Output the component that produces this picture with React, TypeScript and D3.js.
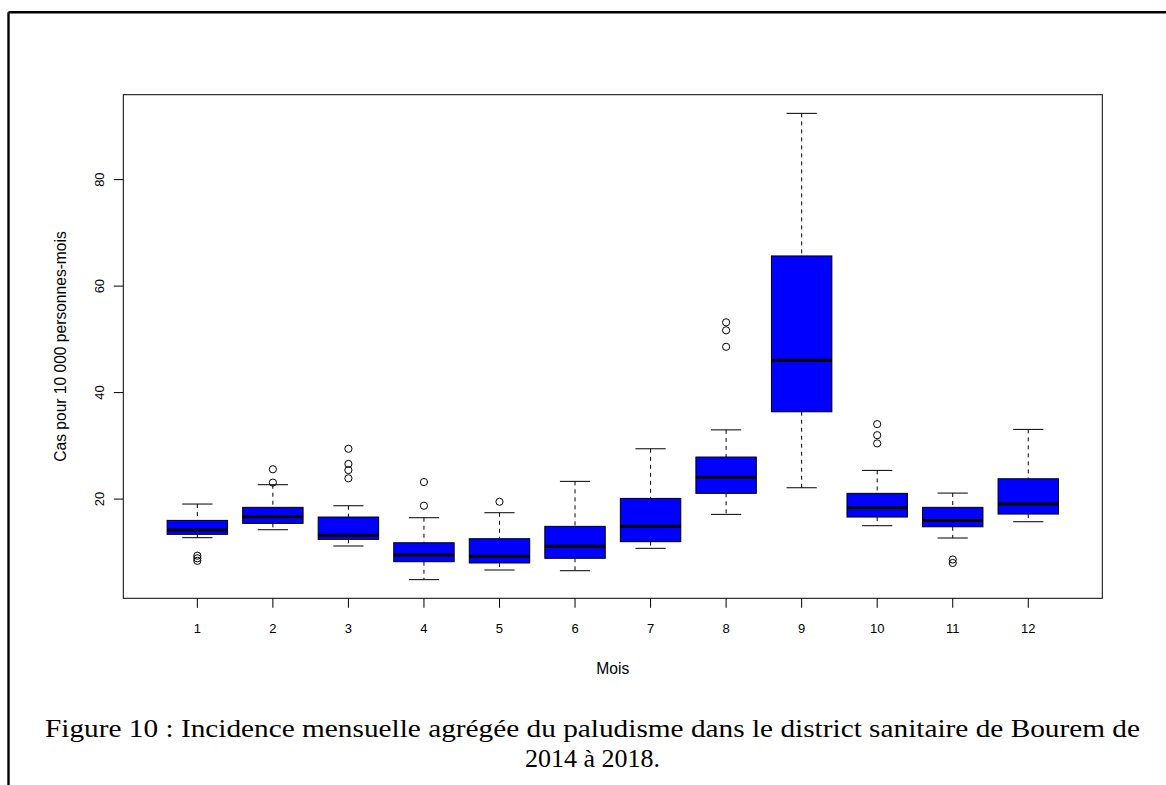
import React from 'react';
import * as d3 from 'd3';

const months = ['1', '2', '3', '4', '5', '6', '7', '8', '9', '10', '11', '12'];
const whiskerLow = [12.75, 14.25, 11.19, 4.87, 6.68, 6.55, 10.75, 17.13, 22.13, 15.0, 12.69, 15.75];
const q1 = [13.38, 15.44, 12.44, 8.24, 8.0, 8.88, 12.0, 21.08, 36.4, 16.63, 14.8, 17.19];
const median = [14.19, 16.7, 13.2, 9.5, 9.25, 11.13, 14.88, 24.08, 46.1, 18.38, 16.0, 19.07];
const q3 = [16.0, 18.45, 16.63, 11.8, 12.56, 14.88, 20.13, 27.9, 65.67, 21.08, 18.45, 23.82];
const whiskerHigh = [19.07, 22.7, 18.75, 16.5, 17.44, 23.33, 29.45, 33.0, 92.45, 25.39, 21.13, 33.09];
const outliers: number[][] = [
  [9.37, 8.88, 8.4],
  [25.6, 23.1],
  [29.45, 26.6, 25.45, 23.9],
  [23.2, 18.75],
  [19.5],
  [],
  [],
  [53.2, 51.7, 48.6],
  [],
  [34.08, 32.0, 30.46],
  [8.65, 8.0],
  [],
];
const yTicks = [20, 40, 60, 80];

const yTitle = 'Cas pour 10 000 personnes-mois';
const xTitle = 'Mois';
const caption1 = 'Figure 10 : Incidence mensuelle agrégée du paludisme dans le district sanitaire de Bourem de';
const caption2 = '2014 à 2018.';

export default function App() {
  const W = 1166;
  const H = 785;
  const plot = { left: 123.3, right: 1102.3, top: 94.7, bottom: 598.3 };
  const n = months.length;

  const allVals = [...whiskerLow, ...whiskerHigh, ...outliers.flat()];
  const lo = d3.min(allVals) as number;
  const hi = d3.max(allVals) as number;
  const pad = (hi - lo) * 0.04;
  const y = d3.scaleLinear().domain([lo - pad, hi + pad]).range([plot.bottom, plot.top]);
  const xPad = n * 0.04;
  const x = d3.scaleLinear().domain([0.5 - xPad, n + 0.5 + xPad]).range([plot.left, plot.right]);

  const boxHalf = x(1.4) - x(1);
  const stapleHalf = x(1.2) - x(1);
  const sans = "'Liberation Sans', Arial, Helvetica, sans-serif";
  const serif = "'Liberation Serif', 'Times New Roman', serif";
  const fs = 13;
  const fsLab = 15.6;

  return (
    <svg
      width={W}
      height={H}
      style={{ position: 'absolute', left: 0, top: 0, background: '#fff' }}
      xmlns="http://www.w3.org/2000/svg"
    >
      <rect x={0} y={0} width={W} height={H} fill="#fff" />
      {/* page frame */}
      <line x1={8.5} y1={12.2} x2={W} y2={12.2} stroke="#000" strokeWidth={2.4} />
      <line x1={8.5} y1={12.2} x2={8.5} y2={H} stroke="#000" strokeWidth={2.4} />

      {/* boxes */}
      {months.map((m, i) => {
        const cx = x(i + 1);
        return (
          <g key={m}>
            <line x1={cx} x2={cx} y1={y(whiskerHigh[i])} y2={y(q3[i])} stroke="#000" strokeWidth={1} strokeDasharray="4,4" />
            <line x1={cx} x2={cx} y1={y(q1[i])} y2={y(whiskerLow[i])} stroke="#000" strokeWidth={1} strokeDasharray="4,4" />
            <line x1={cx - stapleHalf} x2={cx + stapleHalf} y1={y(whiskerHigh[i])} y2={y(whiskerHigh[i])} stroke="#000" strokeWidth={1} />
            <line x1={cx - stapleHalf} x2={cx + stapleHalf} y1={y(whiskerLow[i])} y2={y(whiskerLow[i])} stroke="#000" strokeWidth={1} />
            <rect
              x={cx - boxHalf}
              y={y(q3[i])}
              width={boxHalf * 2}
              height={y(q1[i]) - y(q3[i])}
              fill="#0000ff"
              stroke="#000"
              strokeWidth={1}
            />
            <line x1={cx - boxHalf} x2={cx + boxHalf} y1={y(median[i])} y2={y(median[i])} stroke="#000" strokeWidth={3} />
            {outliers[i].map((v, j) => (
              <circle key={j} cx={cx} cy={y(v)} r={3.6} fill="none" stroke="#000" strokeWidth={1} />
            ))}
          </g>
        );
      })}

      {/* plot frame */}
      <rect
        x={plot.left}
        y={plot.top}
        width={plot.right - plot.left}
        height={plot.bottom - plot.top}
        fill="none"
        stroke="#000"
        strokeWidth={1}
      />

      {/* y axis */}
      {yTicks.map((t) => (
        <g key={t}>
          <line x1={plot.left - 9.5} x2={plot.left} y1={y(t)} y2={y(t)} stroke="#000" strokeWidth={1} />
          <text
            transform={`translate(${plot.left - 19.5},${y(t)}) rotate(-90)`}
            textAnchor="middle"
            fontFamily={sans}
            fontSize={fs}
          >
            {t}
          </text>
        </g>
      ))}
      <text
        transform={`translate(${65.5},${(plot.top + plot.bottom) / 2}) rotate(-90)`}
        textAnchor="middle"
        fontFamily={sans}
        fontSize={fsLab}
      >
        {yTitle}
      </text>

      {/* x axis */}
      {months.map((m, i) => (
        <g key={m}>
          <line x1={x(i + 1)} x2={x(i + 1)} y1={plot.bottom} y2={plot.bottom + 9.5} stroke="#000" strokeWidth={1} />
          <text x={x(i + 1)} y={633} textAnchor="middle" fontFamily={sans} fontSize={fs}>
            {m}
          </text>
        </g>
      ))}
      <text x={(plot.left + plot.right) / 2} y={673.5} textAnchor="middle" fontFamily={sans} fontSize={fsLab}>
        {xTitle}
      </text>

      {/* caption */}
      <text x={45} y={737} fontFamily={serif} fontSize={26} textLength={1095} lengthAdjust="spacingAndGlyphs">
        {caption1}
      </text>
      <text x={592.5} y={767} textAnchor="middle" fontFamily={serif} fontSize={26}>
        {caption2}
      </text>
    </svg>
  );
}
